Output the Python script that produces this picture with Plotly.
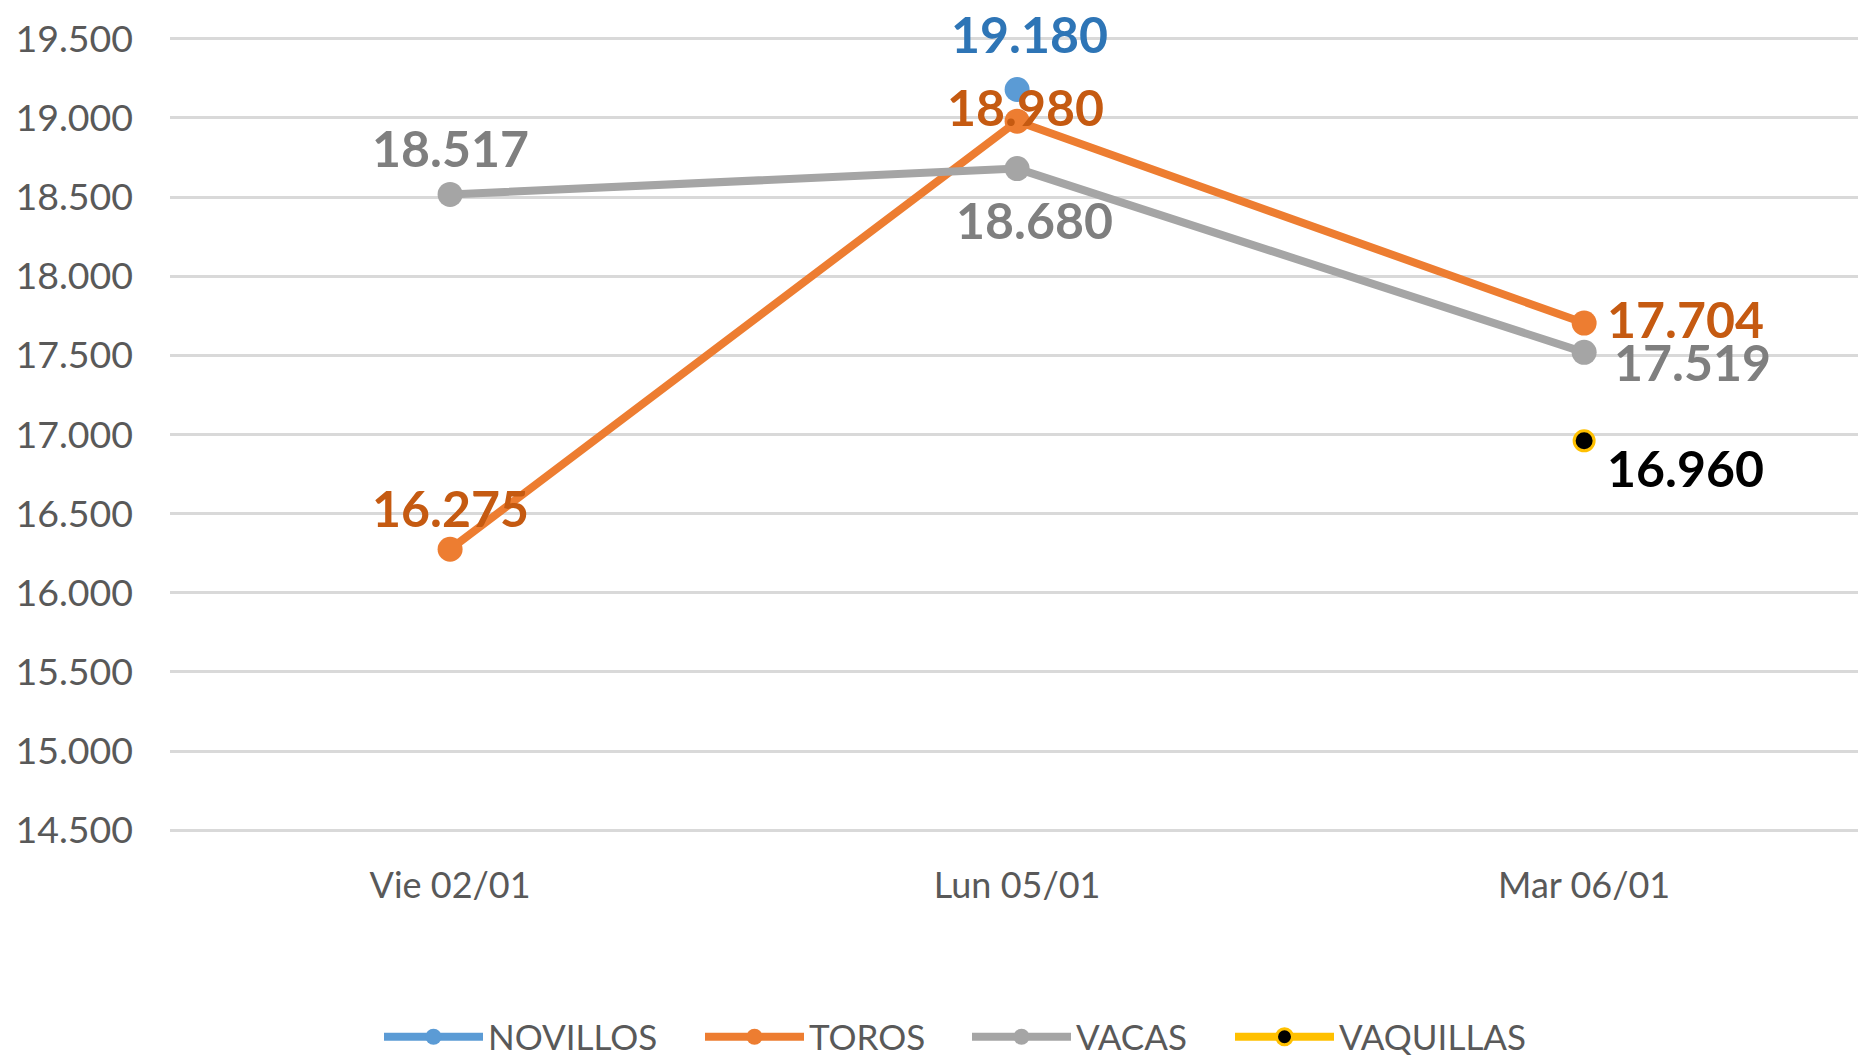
import plotly.graph_objects as go

categories = ["Vie 02/01", "Lun 05/01", "Mar 06/01"]
novillos = [None, 19180, None]
toros = [16275, 18980, 17704]
vacas = [18517, 18680, 17519]
vaquillas = [None, None, 16960]

series_names = ["NOVILLOS", "TOROS", "VACAS", "VAQUILLAS"]
series_values = [novillos, toros, vacas, vaquillas]

line_colors = {"NOVILLOS": "#5B9BD5", "TOROS": "#ED7D31", "VACAS": "#A5A5A5", "VAQUILLAS": "#FFC000"}
marker_fill = {"NOVILLOS": "#5B9BD5", "TOROS": "#ED7D31", "VACAS": "#A5A5A5", "VAQUILLAS": "#000000"}
label_colors = {"NOVILLOS": "#2E75B6", "TOROS": "#C55A11", "VACAS": "#7F7F7F", "VAQUILLAS": "#000000"}
# label placement per (series, category index): (xanchor, xshift, yshift)
label_place = {
    ("NOVILLOS", 1): ("center", 12, 55),
    ("TOROS", 0): ("center", 0, 41),
    ("TOROS", 1): ("center", 8, 14),
    ("TOROS", 2): ("left", 21, 4),
    ("VACAS", 0): ("center", 0, 46),
    ("VACAS", 1): ("center", 17, -51),
    ("VACAS", 2): ("left", 28, -10),
    ("VAQUILLAS", 2): ("left", 21, -27),
}
# legend entry left edges (px in the 1858-wide page)
legend_left_px = [379, 700, 967, 1230]
legend_ids = ["legend", "legend2", "legend3", "legend4"]

FONT = "Lato, 'Open Sans', sans-serif"
W, H = 1858, 1056

fig = go.Figure()
for name, vals, lid in zip(series_names, series_values, legend_ids):
    msize = 20 if name == "VAQUILLAS" else 25
    fig.add_trace(go.Scatter(
        x=categories, y=vals, name=name, mode="lines+markers",
        line=dict(color=line_colors[name], width=8),
        marker=dict(size=msize, color=marker_fill[name],
                    line=dict(color=line_colors[name], width=3 if name == "VAQUILLAS" else 0)),
        connectgaps=False, cliponaxis=False, legend=lid,
    ))

annotations = []
for name, vals in zip(series_names, series_values):
    for i, v in enumerate(vals):
        if v is None:
            continue
        xa, xs, ys = label_place[(name, i)]
        annotations.append(dict(
            x=categories[i], y=v, xref="x", yref="y",
            text="<b>" + f"{v:,}".replace(",", ".") + "</b>",
            showarrow=False, xanchor=xa, yanchor="middle",
            xshift=xs, yshift=ys,
            font=dict(family=FONT, size=50, color=label_colors[name]),
        ))

legend_common = dict(orientation="h", xref="container", yref="container",
                     xanchor="left", y=1 - 1037 / H, yanchor="middle",
                     font=dict(family=FONT, size=35, color="#595959"),
                     itemwidth=99, bgcolor="rgba(0,0,0,0)")
legend_layout = {lid: dict(legend_common, x=px / W) for lid, px in zip(legend_ids, legend_left_px)}

fig.update_layout(
    width=W, height=H,
    margin=dict(l=170, r=0, t=23, b=210),
    plot_bgcolor="white", paper_bgcolor="white",
    separators=",.",
    font=dict(family=FONT, color="#595959"),
    showlegend=True,
    annotations=annotations,
    **legend_layout,
)
fig.update_xaxes(
    type="category", range=[-0.494, 2.483], showgrid=False, showline=False, zeroline=False,
    tickfont=dict(family=FONT, size=36, color="#595959"), ticks="", ticklabelstandoff=15,
    automargin=False,
)
fig.update_yaxes(
    range=[14400, 19600], tick0=14500, dtick=500, tickformat=",d",
    showgrid=True, gridcolor="#D9D9D9", gridwidth=2.5, zeroline=False, showline=False,
    tickfont=dict(family=FONT, size=37.5, color="#595959"), ticks="", ticklabelstandoff=36,
    automargin=False,
)

fig.write_html("out.html", config={"displayModeBar": False},
               post_script="document.body.style.margin='0';document.body.style.overflow='hidden';")
